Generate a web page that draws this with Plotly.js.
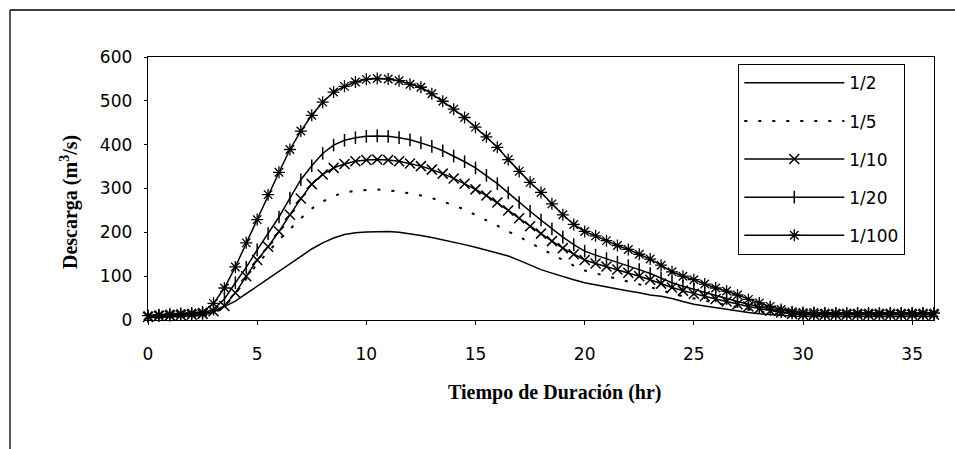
<!DOCTYPE html>
<html>
<head>
<meta charset="utf-8">
<script src="https://cdn.plot.ly/plotly-3.0.1.min.js"></script>
<style>html,body{margin:0;padding:0;background:#fff;}#chart{width:955px;height:449px;}</style>
</head>
<body>
<div id="chart"></div>
<script>
// Tiempo (hr)
const tiempo = [0,0.5,1,1.5,2,2.5,3,3.5,4,4.5,5,5.5,6,6.5,7,7.5,8,8.5,9,9.5,10,10.5,11,11.5,12,12.5,13,13.5,14,14.5,15,15.5,16,16.5,17,17.5,18,18.5,19,19.5,20,20.5,21,21.5,22,22.5,23,23.5,24,24.5,25,25.5,26,26.5,27,27.5,28,28.5,29,29.5,30,30.5,31,31.5,32,32.5,33,33.5,34,34.5,35,35.5,36];
const seriesNames = ["1/2","1/5","1/10","1/20","1/100"];
// Descarga (m3/s)
const q2 = [5,6,7,8,9,10,18,30,43,60,77,94,112,129,146,162,176,187,195,199,201,202,202,200,197,193,188,183,178,172,166,159,152,146,136,125,115,107,99,92,85,80,76,70,66,62,57,54,49,42,36,32,28,24,20,17,14,12,10,9,8,8,8,8,8,8,8,8,8,8,8,8,8];
const q5 = [6,7,8,9,10,12,15,30,60,95,128,155,183,207,232,254,270,283,291,295,297,298,296,293,289,284,278,270,262,252,240,228,215,202,190,176,163,149,136,124,113,106,100,94,88,82,75,68,60,54,49,43,38,33,29,24,20,16,13,11,10,10,10,10,10,10,10,10,10,10,10,10,10];
const q10 = [7,9,10,11,12,14,20,32,62,100,137,167,202,240,277,310,332,347,356,362,365,366,365,362,357,351,343,334,323,311,298,284,268,250,232,214,197,180,164,150,137,129,122,115,108,100,92,83,74,67,60,54,48,42,36,31,26,21,17,14,12,12,12,12,12,12,12,12,12,12,12,12,12];
const q20 = [8,10,11,12,13,15,25,48,85,120,160,197,235,278,320,352,380,399,410,416,419,420,419,416,411,404,396,386,374,361,347,330,311,290,268,248,228,208,189,172,157,148,140,132,124,115,106,96,85,77,70,62,55,49,42,36,30,24,19,16,14,14,14,14,14,14,14,14,14,14,14,14,14];
const q100 = [10,12,14,15,16,18,38,73,121,176,229,286,337,389,431,467,497,520,533,543,549,551,550,546,538,531,516,499,481,462,440,418,394,366,339,314,291,265,240,218,202,192,181,170,161,150,139,125,110,100,92,82,73,66,57,47,39,31,24,19,17,17,16,16,16,16,16,16,16,16,16,16,16];
const xTicks = [0,5,10,15,20,25,30,35];
const yTicks = [0,100,200,300,400,500,600];

const seriesData = [q2,q5,q10,q20,q100];
const lineStyles = [
  {dash:"solid", width:1.5},
  {dash:"3px,11px", width:2},
  {dash:"solid", width:1.5},
  {dash:"solid", width:1.5},
  {dash:"solid", width:1.5}
];
const markerStyles = [null, null,
  {symbol:"x-thin-open", size:10, lw:1.5},
  {symbol:"line-ns-open", size:9, lw:1.5},
  {symbol:"asterisk-open", size:10, lw:1.3}
];

const traces = seriesData.map((ys,i)=>{
  const t = {
    x: tiempo, y: ys, name: seriesNames[i], type:"scatter",
    mode: markerStyles[i] ? "lines+markers" : "lines",
    line: {color:"#000", width: lineStyles[i].width, dash: lineStyles[i].dash},
    cliponaxis:false,
    legendgroup: "g"+i
  };
  if (markerStyles[i]) {
    t.marker = {symbol: markerStyles[i].symbol, size: markerStyles[i].size, color:"#000", line:{color:"#000", width:markerStyles[i].lw}};
  }
  return t;
});

const L = 148, R = 934, T = 57, B = 320;
const px2x = p => (p-L)/(R-L);
const px2y = p => (B-p)/(B-T);

const layout = {
  width:955, height:449,
  margin:{l:L, r:955-R, t:T, b:449-B, pad:0},
  paper_bgcolor:"#fff", plot_bgcolor:"#fff",
  showlegend:true,
  font:{family:"DejaVu Sans, Arial, sans-serif", size:17, color:"#000"},
  xaxis:{
    range:[0,36], tickvals:xTicks, ticktext:xTicks.map(String),
    showgrid:false, zeroline:false, showline:true, mirror:true, linecolor:"#000", linewidth:1.3,
    ticks:"outside", ticklen:4, tickwidth:1, tickcolor:"#000",
    ticklabelstandoff:14,
    tickfont:{family:"DejaVu Sans, Arial, sans-serif", size:17, color:"#000"}
  },
  yaxis:{
    range:[0,600], tickvals:yTicks, ticktext:yTicks.map(String),
    showgrid:false, zeroline:false, showline:true, mirror:true, linecolor:"#000", linewidth:1.3,
    ticks:"outside", ticklen:3, tickwidth:1, tickcolor:"#000",
    ticklabelstandoff:8,
    tickfont:{family:"DejaVu Sans, Arial, sans-serif", size:17, color:"#000"}
  },
  legend:{
    x:px2x(738), y:px2y(64), xanchor:"left", yanchor:"top",
    bordercolor:"#000", borderwidth:1.3, bgcolor:"#fff",
    traceorder:"grouped", tracegroupgap:13, itemwidth:100,
    font:{family:"DejaVu Sans, Arial, sans-serif", size:17, color:"#000"}
  },
  annotations:[
    {text:"<b>Tiempo de Duración (hr)</b>", xref:"paper", yref:"paper", x:px2x(555), y:px2y(392),
     showarrow:false, xanchor:"center", yanchor:"middle",
     font:{family:"Liberation Serif, Times New Roman, serif", size:20, color:"#000"}},
    {text:"<b>Descarga (m<sup>3</sup>/s)</b>", xref:"paper", yref:"paper", x:px2x(70), y:px2y(202),
     showarrow:false, textangle:-90, xanchor:"center", yanchor:"middle",
     font:{family:"Liberation Serif, Times New Roman, serif", size:20, color:"#000"}}
  ],
  shapes:[
    {type:"line", xref:"paper", yref:"paper", x0:px2x(10), x1:px2x(10), y0:px2y(10), y1:px2y(470), line:{color:"#000", width:1.3}},
    {type:"line", xref:"paper", yref:"paper", x0:px2x(10), x1:px2x(970), y0:px2y(10), y1:px2y(10), line:{color:"#000", width:1.3}}
  ]
};

Plotly.newPlot("chart", traces, layout, {staticPlot:true, displayModeBar:false});
</script>
</body>
</html>
